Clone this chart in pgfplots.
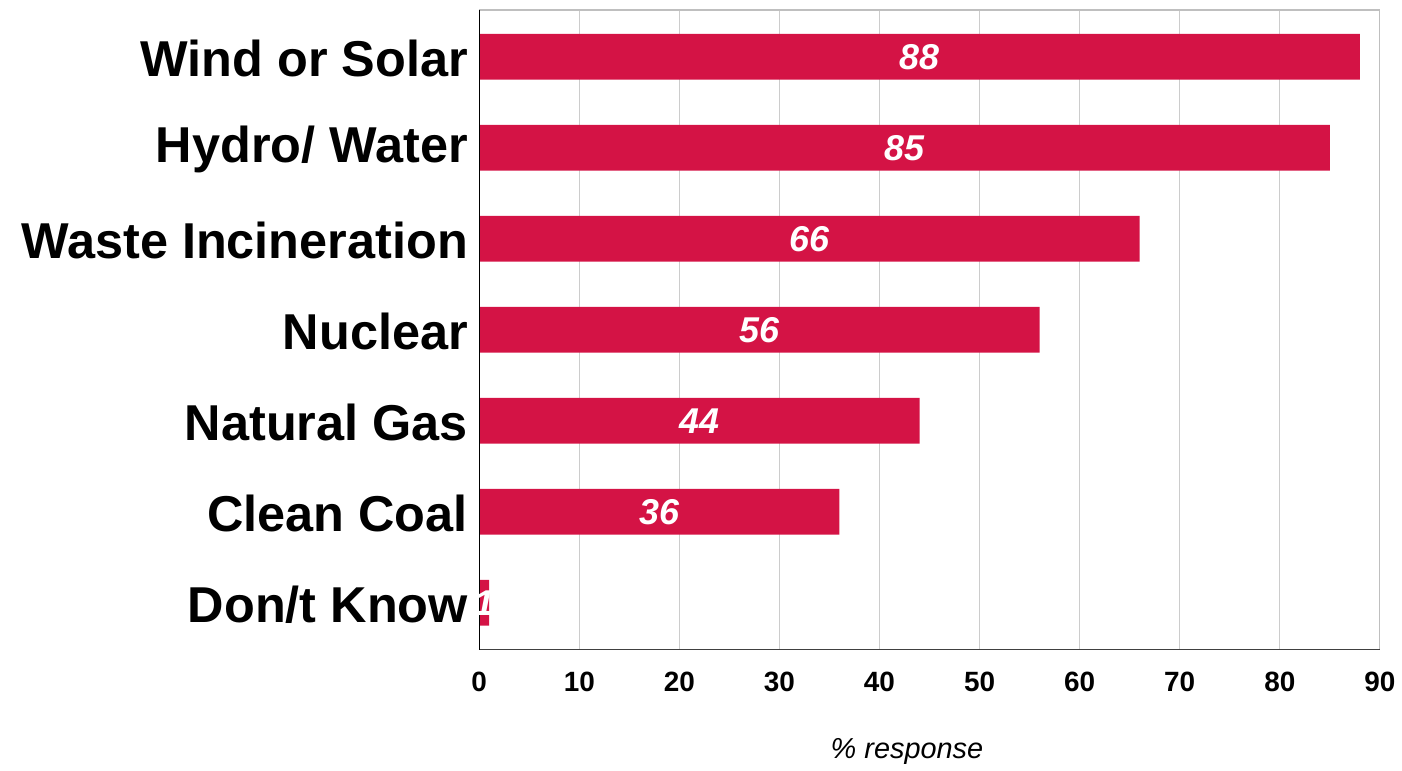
\documentclass[border=0pt]{standalone}
\usepackage{fontspec}
\setmainfont{Liberation Sans}
\usepackage{pgfplots}
\usepackage{pgfplotstable}
\pgfplotsset{compat=1.18}
\definecolor{barred}{RGB}{212,19,69}

\pgfplotstableread{
y v
6 88
5 85
4 66
3 56
2 44
1 36
0 1
}\shares

\begin{document}
\begin{tikzpicture}
\begin{axis}[
  scale only axis, width=452pt, height=321pt,
  xmin=0, xmax=90, ymin=-0.515, ymax=6.515,
  xtick={0,10,...,90},
  ytick={0,...,6},
  yticklabels={Don/t Know, Clean Coal, Natural Gas, Nuclear, Waste Incineration, Hydro/ Water, Wind or Solar},
  major tick length=0pt,
  axis line style={draw=none},
  xmajorgrids, grid style={draw=black!20, line width=0.6pt},
  /pgf/number format/assume math mode=true,
  xticklabel style={font=\fontsize{14}{16}\selectfont\bfseries, yshift=-7.5pt},
  yticklabel style={font=\fontsize{25.3}{28}\selectfont\bfseries, inner sep=0pt, xshift=-5.5pt, yshift=-1pt},
  xlabel={\% response},
  xlabel style={font=\fontsize{14.5}{16}\selectfont\itshape, at={(axis description cs:0.475,0)}, anchor=center, yshift=-51pt},
]
\addplot[xbar, bar width=23pt, fill=barred, draw=none] table[x=v, y=y] \shares;
\addplot[draw=none, mark=none, point meta=explicit,
  nodes near coords,
  every node near coord/.style={anchor=center, text=white, font=\fontsize{18}{20}\selectfont\bfseries\itshape}]
  table[x expr=\thisrow{v}/2, y=y, meta=v] \shares;
\draw[black!25, line width=0.6pt] (rel axis cs:0,1) -- (rel axis cs:1,1) -- (rel axis cs:1,0);
\draw[black!75, line width=0.8pt] (rel axis cs:0,0) -- (rel axis cs:1,0);
\draw[black, line width=1pt] (rel axis cs:0,0) -- (rel axis cs:0,1);
\path (rel axis cs:0,1) ++(-240.5pt,5pt) coordinate (tl);
\path (rel axis cs:1,0) ++(8.5pt,-56pt) coordinate (br);
\end{axis}
\path (tl) rectangle (br);
\end{tikzpicture}
\end{document}
